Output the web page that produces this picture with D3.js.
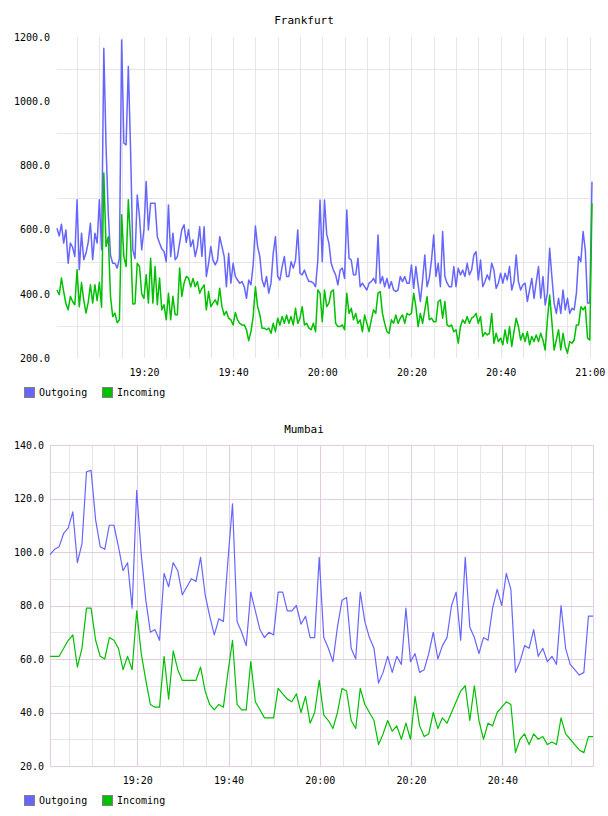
<!DOCTYPE html>
<html>
<head>
<meta charset="utf-8">
<script src="https://cdn.jsdelivr.net/npm/d3@7"></script>
<style>
body { margin: 0; background: #fff; }
text { font-family: "DejaVu Sans Mono", monospace; fill: #000; }
</style>
</head>
<body>
<script>
var seriesNames = ["Outgoing", "Incoming"];

// Frankfurt: one sample every 30 s from 19:00:30
var fraStart = new Date(2020, 0, 1, 19, 0, 30);
var fraStepSec = 30;
var fraOutgoing = [
  604, 580, 617, 558, 599, 495, 558, 545, 516, 693,
  475, 589, 506, 526, 560, 620, 506, 589, 558, 693,
  537, 1165, 860, 650, 520, 495, 495, 480, 510, 1191,
  869, 864, 1108, 850, 537, 510, 708, 640, 537, 600,
  750, 599, 682, 682, 682, 578, 558, 540, 532, 500,
  677, 516, 589, 506, 516, 558, 600, 615, 560, 600,
  547, 568, 516, 547, 609, 516, 609, 454, 495, 547,
  505, 490, 505, 578, 547, 516, 422, 526, 433, 495,
  454, 443, 433, 438, 422, 386, 443, 428, 490, 611,
  547, 516, 443, 422, 454, 402, 433, 526, 578, 454,
  443, 485, 516, 454, 454, 500, 480, 505, 599, 464,
  459, 474, 454, 438, 438, 433, 422, 505, 692, 500, 692,
  585, 557, 495, 474, 459, 428, 474, 480, 448, 661,
  511, 505, 459, 459, 511, 422, 433, 422, 412, 433,
  438, 448, 433, 583, 433, 454, 422, 448, 417, 438,
  412, 407, 412, 454, 438, 454, 433, 433, 490, 417,
  485, 428, 376, 443, 521, 422, 448, 505, 583, 454,
  495, 422, 594, 454, 433, 422, 422, 485, 422, 480,
  459, 474, 454, 495, 459, 474, 521, 531, 443, 505,
  422, 438, 459, 443, 495, 474, 417, 433, 464, 433,
  464, 443, 485, 412, 438, 521, 438, 412, 428, 433,
  376, 412, 448, 386, 438, 485, 386, 454, 365, 402,
  542, 454, 371, 339, 386, 339, 412, 350, 386, 339,
  355, 350, 402, 516, 500, 594, 536, 371, 371, 749
];
var fraIncoming = [
  412, 397, 449, 407, 369, 350, 392, 376, 366, 475,
  360, 435, 381, 340, 373, 428, 371, 428, 379, 436,
  358, 776, 547, 578, 392, 329, 340, 310, 319, 646,
  516, 485, 693, 568, 368, 369, 495, 485, 400, 386,
  459, 371, 511, 371, 485, 366, 449, 350, 366, 319,
  402, 319, 392, 335, 335, 480, 392, 433, 454, 449,
  422, 448, 422, 438, 402, 417, 428, 350, 407, 360,
  371, 381, 365, 417, 360, 334, 345, 324, 319, 303,
  342, 319, 308, 303, 303, 288, 254, 282, 329, 422,
  360, 334, 293, 293, 288, 293, 277, 308, 282, 324,
  303, 329, 308, 334, 308, 329, 303, 355, 308, 324,
  360, 303, 308, 293, 288, 308, 282, 412, 402, 313, 412,
  360, 371, 407, 412, 308, 298, 298, 303, 288, 402,
  339, 355, 319, 339, 308, 319, 282, 334, 308, 282,
  319, 350, 339, 402, 407, 339, 308, 282, 277, 319,
  308, 334, 308, 324, 334, 308, 339, 334, 339, 402,
  360, 298, 339, 308, 350, 391, 319, 324, 313, 313,
  376, 381, 324, 376, 303, 298, 303, 282, 288, 246,
  298, 319, 308, 329, 308, 324, 329, 339, 308, 329,
  267, 279, 272, 277, 339, 246, 277, 251, 262, 241,
  288, 246, 298, 236, 282, 324, 298, 256, 277, 251,
  282, 241, 267, 251, 272, 251, 277, 256, 225, 319,
  396, 313, 225, 256, 288, 225, 277, 236, 215, 251,
  246, 256, 303, 303, 360, 350, 360, 262, 256, 682
];
var fraYTicks = [200, 400, 600, 800, 1000, 1200];
var fraYGrid = [300, 500, 700, 900, 1100];
var fraXTicks = ["19:20", "19:40", "20:00", "20:20", "20:40", "21:00"];

// Mumbai: one sample per minute from 19:00:52
var mumStart = new Date(2020, 0, 1, 19, 0, 52);
var mumStepSec = 60;
var mumOutgoing = [
  99, 101, 102, 107, 109, 115, 96, 103, 130, 130.5,
  112, 102, 101, 110, 110, 102, 93, 96, 79, 123,
  99, 82, 70, 71, 67, 92, 87, 96, 93, 84,
  87, 90, 89, 98, 84, 76, 69, 75, 74, 97,
  118, 74, 70, 65, 85, 78, 71, 68, 70, 69,
  85, 85, 78, 78, 80, 73, 76, 68, 68, 98,
  68, 64, 59, 72, 82, 83, 64, 60, 85, 74,
  68, 64, 51, 55, 61, 55, 61, 58, 79, 59,
  62, 55, 56, 62, 70, 60, 65, 68, 80, 85,
  67, 98, 72, 68, 62, 68, 67, 79, 86, 80,
  92, 86, 55, 59, 65, 64, 71, 61, 64, 59,
  61, 58, 80, 64, 58, 56, 54, 55, 76, 76
];
var mumIncoming = [
  61, 61, 61, 64, 67, 69, 57, 64, 79, 79,
  67, 61, 60, 68, 67, 64, 56, 61, 56, 78,
  62, 52, 43, 42, 42, 61, 45, 63, 56, 52,
  52, 52, 52, 57, 48, 43, 41, 43, 42, 55,
  67, 43, 41, 41, 59, 44, 41, 38, 38, 38,
  49, 47, 45, 44, 47, 40, 46, 36, 40, 52,
  39, 37, 34, 40, 49, 48, 37, 34, 49, 43,
  40, 37, 28, 32, 37, 33, 35, 30, 36, 30,
  46, 35, 31, 32, 40, 34, 38, 36, 40, 44,
  48, 50, 37, 50, 37, 30, 36, 35, 40, 42,
  44, 43, 25, 30, 32, 28, 32, 30, 31, 28,
  29, 28, 38, 32, 30, 28, 26, 25, 31, 31
];
var mumYTicks = [20, 40, 60, 80, 100, 120, 140];
var mumYGrid = [30, 50, 70, 90, 110, 130];
var mumXTicks = ["19:20", "19:40", "20:00", "20:20", "20:40"];

var colors = ["#6666ff", "#00c000"];
var parseHM = function(s) {
  var p = s.split(":");
  return new Date(2020, 0, 1, +p[0], +p[1], 0);
};

var svg = d3.select("body")
  .append("svg")
  .attr("width", 608)
  .attr("height", 816);

function drawChart(o) {
  var times = o.out.map(function(d, i) {
    return new Date(o.start.getTime() + i * o.step * 1000);
  });
  var x = d3.scaleTime().domain(d3.extent(times)).range([o.left, o.right]);
  var y = d3.scaleLinear().domain([o.yTicks[0], o.yTicks[o.yTicks.length - 1]])
    .range([o.bottom, o.top]);
  var g = svg.append("g");

  // 5 minute vertical grid
  var fives = x.ticks(d3.timeMinute.every(5));
  g.selectAll(".vg").data(fives).enter().append("line")
    .attr("x1", d => Math.round(x(d)) + 0.5)
    .attr("x2", d => Math.round(x(d)) + 0.5)
    .attr("y1", o.top).attr("y2", o.bottom)
    .attr("stroke", d => (o.framed && d.getMinutes() % 20 === 0) ? "#e4cce4" : "#e6e6e6");

  g.selectAll(".hg").data(o.yGrid).enter().append("line")
    .attr("x1", o.left).attr("x2", o.right)
    .attr("y1", d => Math.round(y(d)) + 0.5)
    .attr("y2", d => Math.round(y(d)) + 0.5)
    .attr("stroke", "#e6e6e6");

  if (o.framed) {
    g.selectAll(".hm").data(o.yTicks).enter().append("line")
      .attr("x1", o.left).attr("x2", o.right)
      .attr("y1", d => Math.round(y(d)) + 0.5)
      .attr("y2", d => Math.round(y(d)) + 0.5)
      .attr("stroke", "#e4cce4");
    g.append("rect")
      .attr("x", o.left + 0.5).attr("y", o.top + 0.5)
      .attr("width", o.right - o.left).attr("height", o.bottom - o.top)
      .attr("fill", "none").attr("stroke", "#e4cce4");
  }

  var line = d3.line()
    .x((d, i) => x(times[i]))
    .y(d => y(d));

  [o.out, o.inc].forEach(function(s, k) {
    g.append("path")
      .datum(s)
      .attr("d", line)
      .attr("fill", "none")
      .attr("stroke", colors[k])
      .attr("stroke-width", o.lw)
      .attr("stroke-linejoin", "round");
  });

  var yAxis = g.append("g")
    .attr("transform", "translate(" + o.left + ",0)")
    .call(d3.axisLeft(y).tickValues(o.yTicks).tickFormat(d3.format(".1f"))
      .tickSize(0).tickPadding(o.yPad));
  yAxis.select(".domain").remove();

  var xAxis = g.append("g")
    .attr("transform", "translate(0," + o.bottom + ")")
    .call(d3.axisBottom(x).tickValues(o.xTicks.map(parseHM))
      .tickFormat(d3.timeFormat("%H:%M")).tickSize(0).tickPadding(11));
  xAxis.select(".domain").remove();

  g.append("text")
    .attr("x", 304).attr("y", o.titleY)
    .attr("text-anchor", "middle")
    .style("font-size", "11px")
    .text(o.title);

  var leg = g.selectAll(".leg").data(seriesNames).enter().append("g")
    .attr("transform", (d, i) => "translate(" + (24 + i * 78) + "," + o.legendY + ")");
  leg.append("rect")
    .attr("x", 0.5).attr("y", 0.5).attr("width", 10).attr("height", 10)
    .attr("fill", (d, i) => colors[i]).attr("stroke", "#808080");
  leg.append("text")
    .attr("x", 15).attr("y", 9)
    .style("font-size", "10px")
    .text(d => d);
}

drawChart({
  title: "Frankfurt", titleY: 24,
  start: fraStart, step: fraStepSec, out: fraOutgoing, inc: fraIncoming,
  yTicks: fraYTicks, yGrid: fraYGrid, xTicks: fraXTicks,
  left: 57, right: 592, top: 37, bottom: 358,
  framed: false, yPad: 7, lw: 1.5, legendY: 387
});

drawChart({
  title: "Mumbai", titleY: 433,
  start: mumStart, step: mumStepSec, out: mumOutgoing, inc: mumIncoming,
  yTicks: mumYTicks, yGrid: mumYGrid, xTicks: mumXTicks,
  left: 50, right: 593, top: 445, bottom: 766,
  framed: true, yPad: 6, lw: 1.2, legendY: 795
});
</script>
</body>
</html>
